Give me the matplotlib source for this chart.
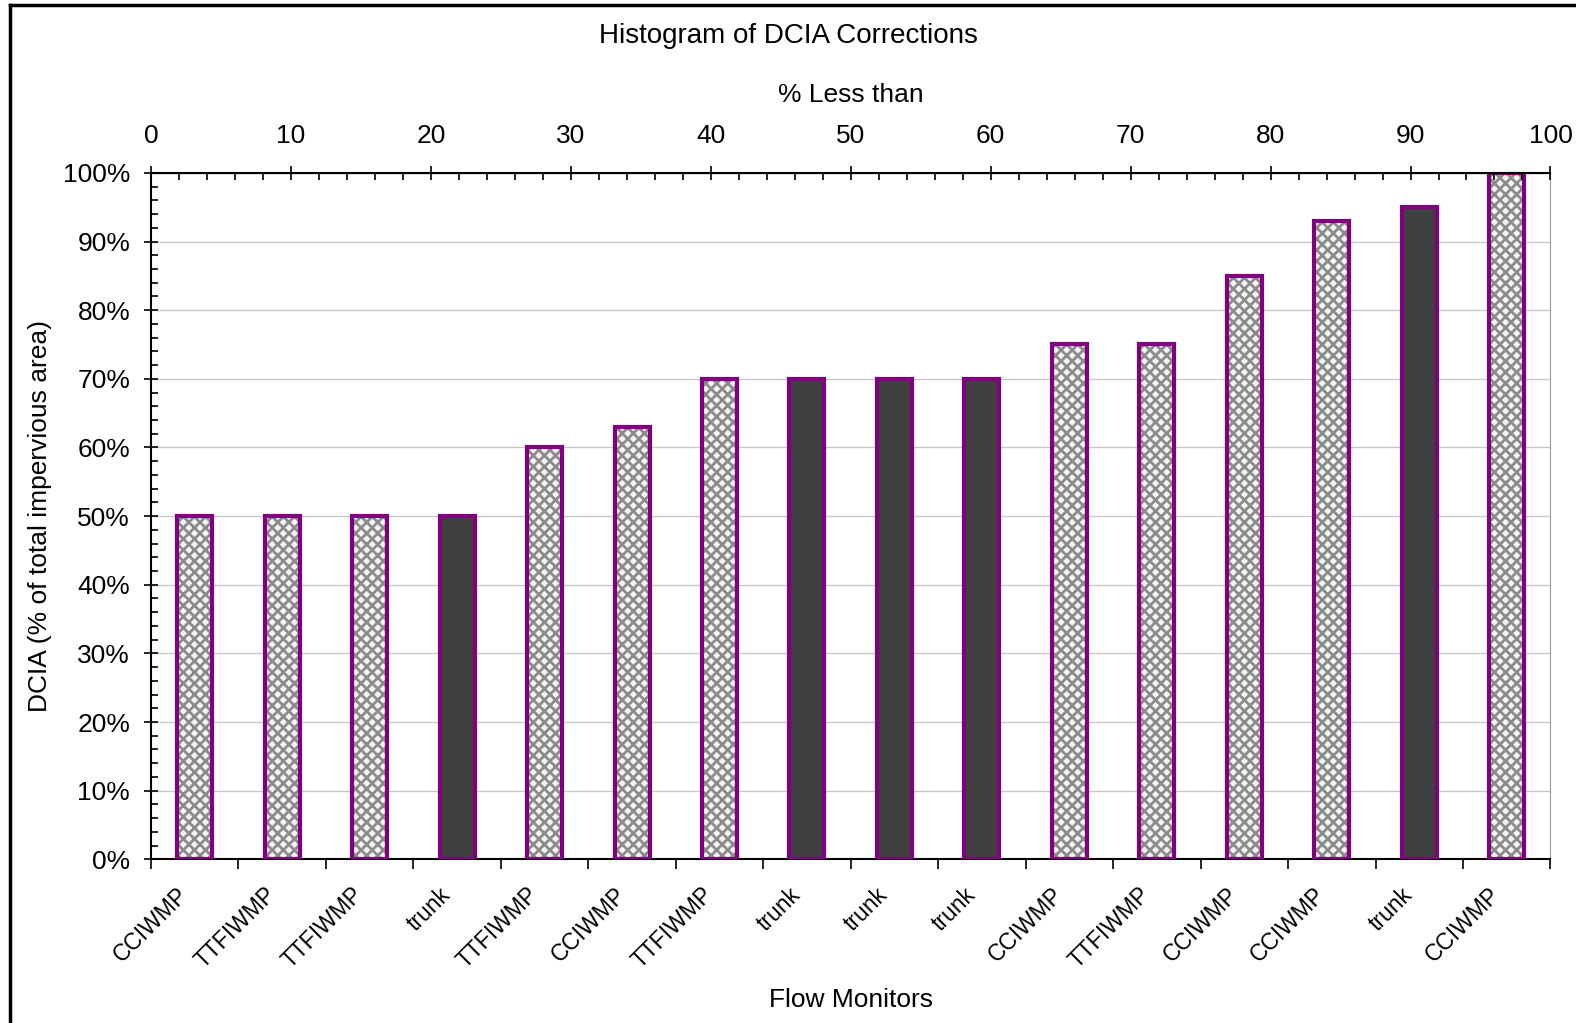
import matplotlib.pyplot as plt
from matplotlib.lines import Line2D
from matplotlib.ticker import MultipleLocator, PercentFormatter
from matplotlib.transforms import ScaledTranslation
import numpy as np

monitors = ['CCIWMP', 'TTFIWMP', 'TTFIWMP', 'trunk', 'TTFIWMP', 'CCIWMP', 'TTFIWMP', 'trunk',
            'trunk', 'trunk', 'CCIWMP', 'TTFIWMP', 'CCIWMP', 'CCIWMP', 'trunk', 'CCIWMP']
dcia = [50, 50, 50, 50, 60, 63, 70, 70, 70, 70, 75, 75, 85, 93, 95, 100]

plt.rcParams['font.family'] = 'Liberation Sans'
plt.rcParams['hatch.linewidth'] = 2.0

fig = plt.figure(figsize=(15.76, 10.23), dpi=100)
ax = fig.add_axes([0.0958, 0.160, 0.888, 0.671])

x = np.arange(len(dcia))
trunk = [m == 'trunk' for m in monitors]
for i in range(len(dcia)):
    if trunk[i]:
        ax.bar(x[i], dcia[i], width=0.4, color='#404040', edgecolor='#800080', linewidth=3, zorder=3)
    else:
        ax.bar(x[i], dcia[i], width=0.4, color='#f4f4f4', edgecolor='#8c8c8c', hatch='xxx',
               linewidth=0, zorder=3)
        ax.bar(x[i], dcia[i], width=0.4, fill=False, edgecolor='#800080', linewidth=3, zorder=4)

ax.set_xlim(-0.5, len(dcia) - 0.5)
ax.set_ylim(0, 100)
ax.yaxis.set_major_locator(MultipleLocator(10))
ax.yaxis.set_minor_locator(MultipleLocator(2))
ax.yaxis.set_major_formatter(PercentFormatter(decimals=0))
ax.grid(axis='y', color='#c8c8c8', linewidth=1, zorder=0)
ax.set_axisbelow(True)

ax.set_xticks(x)
ax.set_xticklabels(monitors, rotation=45, ha='right', va='center', rotation_mode='anchor')
ax.set_xticks(np.arange(-0.5, len(dcia), 1), minor=True)
ax.tick_params(axis='x', which='major', length=0, pad=23, labelsize=16.5)
ax.tick_params(axis='x', which='minor', length=7, direction='out', width=1.2)
ax.tick_params(axis='y', which='major', length=10, direction='inout', width=1.2, labelsize=19, pad=10)
ax.tick_params(axis='y', which='minor', length=5, direction='in', width=1.2)
# nudge the rotated category labels to the left (after tick_params, which resets transforms)
shift = ScaledTranslation(-10 / 100, 0, fig.dpi_scale_trans)
for lbl in ax.get_xticklabels():
    lbl.set_transform(lbl.get_transform() + shift)

for s in ['left', 'bottom']:
    ax.spines[s].set_linewidth(1.5)
ax.spines['right'].set_color('#999999')
ax.spines['top'].set_linewidth(1.5)

ax.set_xlabel('Flow Monitors', fontsize=19, labelpad=11)
ax.set_ylabel('DCIA (% of total impervious area)', fontsize=19, labelpad=8)

ax2 = ax.twiny()
ax2.set_xlim(0, 100)
ax2.xaxis.set_major_locator(MultipleLocator(10))
ax2.xaxis.set_minor_locator(MultipleLocator(2))
ax2.tick_params(axis='x', which='major', length=10, direction='inout', width=1.2, labelsize=19, pad=13)
ax2.tick_params(axis='x', which='minor', length=5, direction='in', width=1.2)
ax2.set_xlabel('% Less than', fontsize=19, labelpad=16)
for s in ['left', 'bottom', 'right']:
    ax2.spines[s].set_visible(False)

fig.text(0.5, 1 - 36 / 1023, 'Histogram of DCIA Corrections', ha='center', va='center', fontsize=20)

# outer frame (left and top edges)
fig.add_artist(Line2D([10 / 1576, 10 / 1576], [0, 1 - 5 / 1023], color='black', linewidth=2.5, transform=fig.transFigure))
fig.add_artist(Line2D([10 / 1576, 1], [1 - 5 / 1023, 1 - 5 / 1023], color='black', linewidth=2.5, transform=fig.transFigure))

fig.savefig('out.png', dpi=100)
